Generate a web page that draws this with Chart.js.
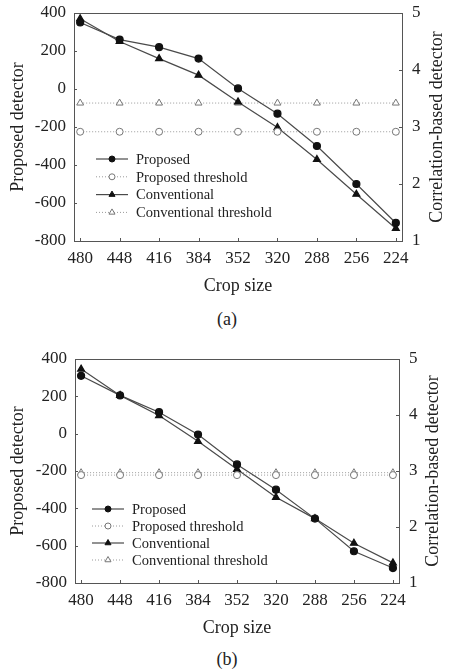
<!DOCTYPE html>
<html>
<head>
<meta charset="utf-8">
<script src="https://cdn.jsdelivr.net/npm/chart.js@4.4.0/dist/chart.umd.min.js"></script>
<style>
  body { margin: 0; background: #fff; }
  #wrap { position: relative; width: 456px; height: 672px; }
  canvas { position: absolute; left: 0; }
  .cap { position: absolute; width: 60px; text-align: center; font: 18px 'Liberation Serif', serif; color: #222; }
</style>
</head>
<body>
<div id="wrap">
  <canvas id="chartA" width="456" height="300" style="top:0"></canvas>
  <div class="cap" style="left:197px; top:309px">(a)</div>
  <canvas id="chartB" width="456" height="296" style="top:346px"></canvas>
  <div class="cap" style="left:197px; top:649px">(b)</div>
</div>
<script>
// crop sizes on the x axis (shown largest to smallest)
const cropSizes = [480, 448, 416, 384, 352, 320, 288, 256, 224];

// (a)
const proposedA = [350, 260, 220, 160, 3, -130, -300, -500, -705];
const proposedThresholdA = [-225, -225, -225, -225, -225, -225, -225, -225, -225];
const conventionalA = [4.9, 4.5, 4.2, 3.91, 3.44, 2.99, 2.43, 1.82, 1.22];
const conventionalThresholdA = [3.42, 3.42, 3.42, 3.42, 3.42, 3.42, 3.42, 3.42, 3.42];

// (b)
const proposedB = [310, 205, 115, -5, -165, -300, -455, -630, -720];
const proposedThresholdB = [-222, -222, -222, -222, -222, -222, -222, -222, -222];
const conventionalB = [4.82, 4.35, 3.99, 3.53, 3.03, 2.53, 2.15, 1.71, 1.36];
const conventionalThresholdB = [2.97, 2.97, 2.97, 2.97, 2.97, 2.97, 2.97, 2.97, 2.97];

const leftTicks = [400, 200, 0, -200, -400, -600, -800];
const rightTicks = [5, 4, 3, 2, 1];

const serif = "'Liberation Serif', 'DejaVu Serif', serif";
const ink = '#222';
const lineCol = '#4a4a4a';
const dotCol = '#9a9a9a';

const toPoints = (vals) => vals.map((v, i) => ({ x: cropSizes[i], y: v }));

// frame, inward ticks, legend inside plot, right axis title
const framePlugin = {
  id: 'frame',
  afterDraw(chart, args, opts) {
    const { ctx, chartArea: a, scales } = chart;
    ctx.save();
    ctx.strokeStyle = '#555';
    ctx.lineWidth = 1;
    ctx.strokeRect(Math.round(a.left) + 0.5, Math.round(a.top) + 0.5, Math.round(a.width), Math.round(a.height));
    ctx.beginPath();
    scales.x.ticks.forEach(t => {
      const px = Math.round(scales.x.getPixelForValue(t.value)) + 0.5;
      ctx.moveTo(px, a.bottom); ctx.lineTo(px, a.bottom - 3);
    });
    scales.y.ticks.forEach(t => {
      const py = Math.round(scales.y.getPixelForValue(t.value)) + 0.5;
      ctx.moveTo(a.left, py); ctx.lineTo(a.left + 3, py);
    });
    scales.y2.ticks.forEach(t => {
      const py = Math.round(scales.y2.getPixelForValue(t.value)) + 0.5;
      ctx.moveTo(a.right, py); ctx.lineTo(a.right - 3, py);
    });
    ctx.stroke();

    // legend
    ctx.font = '14.5px ' + serif;
    ctx.textBaseline = 'middle';
    chart.data.datasets.forEach((ds, i) => {
      const y = a.top + opts.legendY + i * opts.legendGap;
      const x0 = a.left + opts.legendX;
      ctx.save();
      ctx.strokeStyle = ds.borderColor;
      ctx.lineWidth = ds.borderWidth;
      ctx.setLineDash(ds.borderDash || []);
      ctx.beginPath();
      ctx.moveTo(x0, y); ctx.lineTo(x0 + 32, y);
      ctx.stroke();
      ctx.setLineDash([]);
      ctx.fillStyle = ds.pointBackgroundColor;
      ctx.strokeStyle = ds.pointBorderColor;
      ctx.lineWidth = 1;
      Chart.helpers.drawPoint(ctx, { pointStyle: ds.pointStyle, radius: ds.pointRadius - 0.5, rotation: 0, borderWidth: 1 }, x0 + 16, y);
      ctx.restore();
      ctx.fillStyle = ink;
      ctx.textAlign = 'left';
      ctx.fillText(ds.label, x0 + 40, y + 1);
    });

    // right axis title, reading bottom to top
    ctx.translate(a.right + opts.rightTitle, (a.top + a.bottom) / 2);
    ctx.rotate(-Math.PI / 2);
    ctx.textAlign = 'center';
    ctx.font = '18px ' + serif;
    ctx.fillStyle = ink;
    ctx.fillText('Correlation-based detector', 0, 0);
    ctx.restore();
  }
};

function makeChart(id, proposed, proposedThr, conventional, conventionalThr, frameOpts, box) {
  return new Chart(document.getElementById(id), {
    type: 'line',
    data: {
      datasets: [
        {
          label: 'Proposed', data: toPoints(proposed), yAxisID: 'y',
          borderColor: lineCol, borderWidth: 1.2,
          pointStyle: 'circle', pointRadius: 3.5,
          pointBackgroundColor: '#111', pointBorderColor: '#111'
        },
        {
          label: 'Proposed threshold', data: toPoints(proposedThr), yAxisID: 'y',
          borderColor: dotCol, borderWidth: 1, borderDash: [1, 2],
          pointStyle: 'circle', pointRadius: 3.5,
          pointBackgroundColor: '#fff', pointBorderColor: '#777', pointBorderWidth: 1
        },
        {
          label: 'Conventional', data: toPoints(conventional), yAxisID: 'y2',
          borderColor: lineCol, borderWidth: 1.2,
          pointStyle: 'triangle', pointRadius: 4,
          pointBackgroundColor: '#111', pointBorderColor: '#111'
        },
        {
          label: 'Conventional threshold', data: toPoints(conventionalThr), yAxisID: 'y2',
          borderColor: dotCol, borderWidth: 1, borderDash: [1, 2],
          pointStyle: 'triangle', pointRadius: 4,
          pointBackgroundColor: '#fff', pointBorderColor: '#777', pointBorderWidth: 1
        }
      ]
    },
    options: {
      responsive: false,
      animation: false,
      devicePixelRatio: 1,
      layout: { padding: { top: box.top, left: 0, right: 0, bottom: 0 } },
      plugins: {
        legend: { display: false },
        tooltip: { enabled: false },
        frame: frameOpts
      },
      scales: {
        x: {
          type: 'linear', reverse: true, min: 219, max: 485,
          afterBuildTicks: (s) => { s.ticks = cropSizes.map(v => ({ value: v })); },
          afterFit: (s) => { s.height = box.bottom; s.paddingLeft = 0; s.paddingRight = 0; },
          grid: { display: false, drawTicks: false },
          border: { display: false },
          ticks: { color: ink, font: { family: serif, size: 17 }, padding: 7, maxRotation: 0, autoSkip: false },
          title: { display: true, text: 'Crop size', color: ink, font: { family: serif, size: 18 }, padding: { top: 4, bottom: 3 } }
        },
        y: {
          position: 'left', min: -800, max: 400,
          afterBuildTicks: (s) => { s.ticks = leftTicks.map(v => ({ value: v })); },
          afterFit: (s) => { s.width = box.left; s.paddingTop = 0; s.paddingBottom = 0; },
          grid: { display: false, drawTicks: false },
          border: { display: false },
          ticks: { color: ink, font: { family: serif, size: 17 }, padding: 8 },
          title: { display: true, text: 'Proposed detector', color: ink, font: { family: serif, size: 18 }, padding: { top: 7, bottom: 4 } }
        },
        y2: {
          position: 'right', min: 1, max: 5,
          afterBuildTicks: (s) => { s.ticks = rightTicks.map(v => ({ value: v })); },
          afterFit: (s) => { s.width = box.right; s.paddingTop = 0; s.paddingBottom = 0; },
          grid: { display: false, drawTicks: false },
          border: { display: false },
          ticks: { color: ink, font: { family: serif, size: 17 }, padding: 10 }
        }
      }
    },
    plugins: [framePlugin]
  });
}

makeChart('chartA', proposedA, proposedThresholdA, conventionalA, conventionalThresholdA,
  { legendX: 22, legendY: 146, legendGap: 17.8, rightTitle: 35 },
  { top: 13, left: 74, right: 54, bottom: 59 });
makeChart('chartB', proposedB, proposedThresholdB, conventionalB, conventionalThresholdB,
  { legendX: 17, legendY: 150, legendGap: 17, rightTitle: 34 },
  { top: 13, left: 75, right: 57, bottom: 59 });
</script>
</body>
</html>
